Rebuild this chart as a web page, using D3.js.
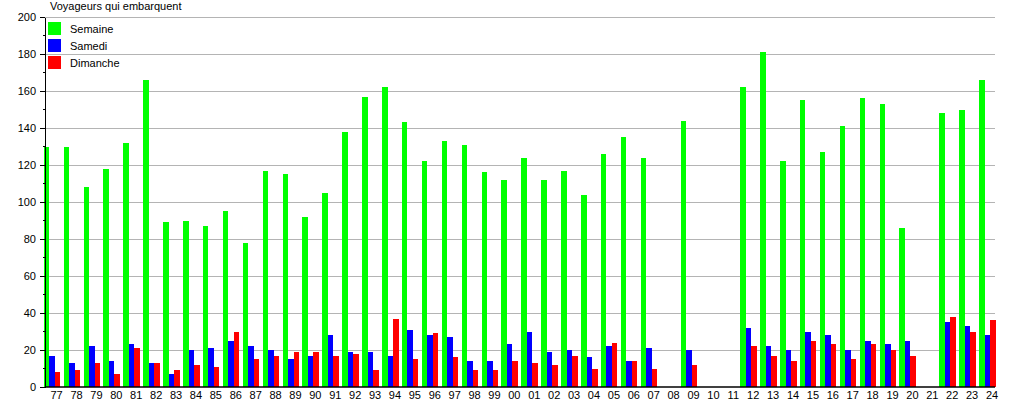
<!DOCTYPE html>
<html>
<head>
<meta charset="utf-8">
<script src="https://cdn.jsdelivr.net/npm/d3@7"></script>
<style>
  body { margin: 0; background: #fff; }
  svg { display: block; font-family: "Liberation Sans", Arial, sans-serif; }
</style>
</head>
<body>
<svg id="chart" width="1015" height="400"></svg>
<script>
// annees (deux chiffres)
const years = ["77","78","79","80","81","82","83","84","85","86","87","88","89","90","91","92","93","94","95","96","97","98","99",
  "00","01","02","03","04","05","06","07","08","09","10","11","12","13","14","15","16","17","18","19","20","21","22","23","24"];
const semaine = [130,130,108,118,132,166,89,90,87,95,78,117,115,92,105,138,157,162,143,122,133,131,116,
  112,124,112,117,104,126,135,124,null,144,null,null,162,181,122,155,127,141,156,153,86,null,148,150,166];
const samedi = [17,13,22,14,23,13,7,20,21,25,22,20,15,17,28,19,19,17,31,28,27,14,14,
  23,30,19,20,16,22,14,21,null,20,null,null,32,22,20,30,28,20,25,23,25,null,35,33,28];
const dimanche = [8,9,13,7,21,13,9,12,11,30,15,17,19,19,17,18,9,37,15,29,16,9,9,
  14,13,12,17,10,24,14,10,null,12,null,null,22,17,14,25,23,15,23,20,17,null,38,30,36];
const seriesNames = ["Semaine","Samedi","Dimanche"];
const colors = ["#00ff00","#0000ff","#ff0000"];
const yTicks = [0,20,40,60,80,100,120,140,160,180,200];

const svg = d3.select("#chart");
const marginLeft = 45, plotRight = 995, plotTop = 17, plotBottom = 387;

var x = d3.scaleBand().domain(years).range([43.7, 999]).padding(0);
var xs = d3.scaleBand().domain(seriesNames).range([0, 16.5]).padding(0);
var y = d3.scaleLinear().domain([0,200]).range([plotBottom, plotTop]);

// grille
svg.append("g")
  .selectAll("line")
  .data(yTicks.slice(1))
  .join("line")
  .attr("x1", marginLeft).attr("x2", plotRight)
  .attr("y1", d => y(d)).attr("y2", d => y(d))
  .attr("stroke", "#b4b4b4").attr("stroke-width", 1)
  .attr("shape-rendering", "crispEdges");

// barres
const data = [semaine, samedi, dimanche];
data.forEach((vals, s) => {
  svg.append("g")
    .attr("fill", colors[s])
    .selectAll("rect")
    .data(years.map((yr, i) => ({yr, v: vals[i]})).filter(d => d.v != null))
    .join("rect")
    .attr("x", d => x(d.yr) + xs(seriesNames[s]))
    .attr("y", d => y(d.v))
    .attr("width", xs.bandwidth())
    .attr("height", d => plotBottom - y(d.v))
    .attr("shape-rendering", "crispEdges");
});

// axe vertical
const yAxis = svg.append("g")
  .attr("transform", `translate(${marginLeft},0)`)
  .call(d3.axisLeft(y).tickValues(yTicks).tickSize(5).tickPadding(4).tickSizeOuter(0));
yAxis.selectAll("text").attr("font-size", 11).attr("fill", "#000").attr("font-family", "Liberation Sans, Arial, sans-serif");
yAxis.select(".domain").attr("shape-rendering", "crispEdges");
yAxis.selectAll(".tick line").attr("shape-rendering", "crispEdges");
// petites graduations
svg.append("g")
  .selectAll("line")
  .data(d3.range(10, 200, 20))
  .join("line")
  .attr("x1", marginLeft - 2).attr("x2", marginLeft)
  .attr("y1", d => y(d)).attr("y2", d => y(d))
  .attr("stroke", "#000")
  .attr("shape-rendering", "crispEdges");

// axe horizontal
svg.append("line")
  .attr("x1", marginLeft).attr("x2", plotRight)
  .attr("y1", plotBottom).attr("y2", plotBottom)
  .attr("stroke", "#000").attr("stroke-width", 1.5);

svg.append("g")
  .attr("font-size", 11)
  .attr("text-anchor", "middle")
  .selectAll("text")
  .data(years)
  .join("text")
  .attr("x", d => x(d) + x.bandwidth() * 0.65)
  .attr("y", 399)
  .text(d => d);

// titre
svg.append("text")
  .attr("x", 50).attr("y", 10)
  .attr("font-size", 11)
  .text("Voyageurs qui embarquent");

// legende
const legend = svg.append("g");
seriesNames.forEach((n, i) => {
  legend.append("rect")
    .attr("x", 48).attr("y", 22 + i * 17)
    .attr("width", 13).attr("height", 13)
    .attr("fill", colors[i]);
  legend.append("text")
    .attr("x", 70).attr("y", 29.5 + i * 17)
    .attr("dy", "0.35em")
    .attr("font-size", 11)
    .text(n);
});
</script>
</body>
</html>
